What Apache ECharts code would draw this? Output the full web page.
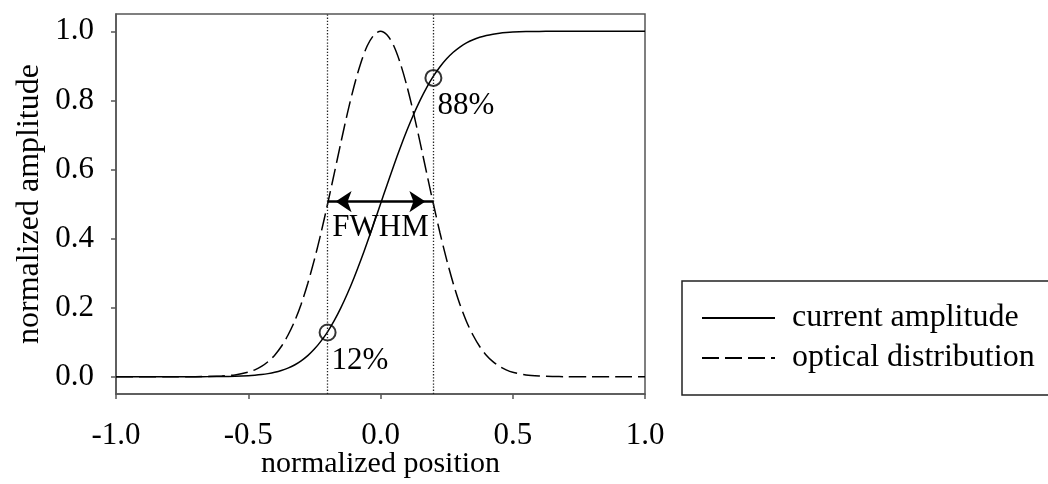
<!DOCTYPE html>
<html>
<head>
<meta charset="utf-8">
<script src="https://cdn.jsdelivr.net/npm/echarts@6/dist/echarts.min.js"></script>
<style>
html,body{margin:0;padding:0;background:#fff;}
#chart{width:1048px;height:484px;}
</style>
</head>
<body>
<div id="chart"></div>
<script>
var positions = [-1.0,-0.9,-0.8,-0.7,-0.65,-0.6,-0.55,-0.5,-0.475,-0.45,-0.425,-0.4,-0.375,-0.35,-0.325,-0.3,-0.275,-0.25,-0.225,-0.2,-0.175,-0.15,-0.125,-0.1,-0.075,-0.05,-0.025,0,0.025,0.05,0.075,0.1,0.125,0.15,0.175,0.2,0.225,0.25,0.275,0.3,0.325,0.35,0.375,0.4,0.425,0.45,0.475,0.5,0.55,0.6,0.65,0.7,0.8,0.9,1.0];
var currentAmplitude = [0,0,0,0.0001,0.0003,0.0006,0.0013,0.0028,0.0042,0.0062,0.0090,0.0128,0.0180,0.0250,0.0340,0.0460,0.0610,0.0800,0.1030,0.1301,0.1622,0.1992,0.2408,0.2867,0.3364,0.3892,0.4440,0.5,0.556,0.6108,0.6636,0.7133,0.7592,0.8008,0.8378,0.8699,0.8974,0.9204,0.9392,0.9544,0.9664,0.9756,0.9826,0.9878,0.9916,0.9944,0.9963,0.9976,0.999,0.9996,0.9999,1,1,1,1];
var opticalDistribution = [0,0,0,0.0002,0.0007,0.002,0.0053,0.0131,0.0200,0.0299,0.0437,0.0625,0.0874,0.120,0.160,0.210,0.270,0.339,0.416,0.5,0.588,0.677,0.763,0.841,0.907,0.958,0.989,1,0.989,0.958,0.907,0.841,0.763,0.677,0.588,0.5,0.416,0.339,0.270,0.210,0.160,0.120,0.0874,0.0625,0.0437,0.0299,0.0200,0.0131,0.0053,0.002,0.0007,0.0002,0,0,0];
var markerX = [-0.2, 0.2];
var markerY = [0.128, 0.865];
var markerLabels = ['12%', '88%'];
var fwhmX = [-0.2, 0.2];
var fwhmY = 0.507;
var fwhmLabelY = 0.43;
var yTicks = [0, 0.2, 0.4, 0.6, 0.8, 1.0];
var seriesNames = ['current amplitude', 'optical distribution'];

var FONT = 'Liberation Serif';
function pairs(xs, ys){ return xs.map(function(x,i){ return [x, ys[i]]; }); }

var chart = echarts.init(document.getElementById('chart'), null, {renderer:'canvas'});
var option = {
  animation: false,
  backgroundColor: '#fff',
  textStyle: {fontFamily: FONT, color: '#000'},
  grid: {left: 116, right: 403, top: 14, bottom: 90, show: true, borderColor: '#555', borderWidth: 1.5, backgroundColor: 'transparent', outerBoundsMode: 'none', containLabel: false},
  legend: {
    orient: 'vertical', left: 682, top: 281,
    data: seriesNames,
    padding: [21, 40, 21, 19],
    itemWidth: 73, itemHeight: 32, itemGap: 8,
    borderColor: '#222', borderWidth: 1.5,
    itemStyle: {opacity: 0},
    textStyle: {fontFamily: FONT, fontSize: 32, color: '#000', padding: [0,0,0,12]},
    selectedMode: false
  },
  xAxis: {
    type: 'value', min: -1, max: 1, interval: 0.5,
    name: 'normalized position', nameLocation: 'middle', nameGap: 55, nameMoveOverlap: false,
    nameTextStyle: {fontFamily: FONT, fontSize: 30, color: '#000'},
    axisLine: {show: true, onZero: false, lineStyle: {color: '#555', width: 1.5}},
    axisTick: {show: true, inside: false, length: 5, lineStyle: {color: '#555', width: 1.5}},
    axisLabel: {fontFamily: FONT, fontSize: 31, color: '#000', margin: 26, formatter: function(v){ return v.toFixed(1); }},
    splitLine: {show: false}
  },
  yAxis: {
    type: 'value', min: -0.05, max: 1.05,
    name: 'normalized amplitude', nameLocation: 'middle', nameGap: 70, nameMoveOverlap: false,
    nameTextStyle: {fontFamily: FONT, fontSize: 32, color: '#000'},
    axisLine: {show: true, onZero: false, lineStyle: {color: '#555', width: 1.5}},
    axisTick: {show: true, inside: false, length: 5, customValues: yTicks, lineStyle: {color: '#555', width: 1.5}},
    axisLabel: {fontFamily: FONT, fontSize: 31, color: '#000', margin: 22, customValues: yTicks, formatter: function(v){ return v.toFixed(1); }},
    splitLine: {show: false}
  },
  series: [
    {
      name: seriesNames[0], type: 'line', data: pairs(positions, currentAmplitude),
      showSymbol: false, symbol: 'none', smooth: 0.3,
      lineStyle: {color: '#000', width: 1.5, type: 'solid'},
      itemStyle: {color: '#000'}, z: 3
    },
    {
      name: seriesNames[1], type: 'line', data: pairs(positions, opticalDistribution),
      showSymbol: false, symbol: 'none', smooth: 0.3,
      lineStyle: {color: '#000', width: 1.5, type: [17, 6]},
      itemStyle: {color: '#000'}, z: 3
    },
    {
      name: 'markers', type: 'scatter',
      data: markerX.map(function(x,i){ return {value: [x, markerY[i]], name: markerLabels[i]}; }),
      symbol: 'emptyCircle', symbolSize: 16,
      itemStyle: {color: '#000', borderColor: '#000', borderWidth: 1.8},
      label: {show: true, formatter: '{b}', fontFamily: FONT, fontSize: 31, color: '#000', opacity: 1, textBorderWidth: 0, position: [13, 37], align: 'left', verticalAlign: 'middle'},
      emphasis: {disabled: true},
      z: 2,
      markLine: {
        silent: true, symbol: 'none', animation: false,
        label: {show: false},
        lineStyle: {color: '#222', width: 1.3, type: [1.3, 1.8]},
        data: [{xAxis: fwhmX[0]}, {xAxis: fwhmX[1]}]
      }
    },
    {
      name: 'fwhm', type: 'scatter',
      data: [{value: [0, fwhmLabelY], name: 'FWHM'}],
      symbol: 'circle', symbolSize: 1,
      itemStyle: {color: '#000', opacity: 0},
      label: {show: true, formatter: '{b}', fontFamily: FONT, fontSize: 31, color: '#000', opacity: 1, textBorderWidth: 0, position: 'inside', align: 'center', verticalAlign: 'middle'},
      emphasis: {disabled: true},
      z: 4,
      markLine: {
        silent: true, animation: false,
        symbol: ['arrow', 'arrow'], symbolSize: 16, symbolOffset: [[0, 8], [0, 8]],
        label: {show: false},
        lineStyle: {color: '#000', width: 2.6, type: 'solid', opacity: 1},
        itemStyle: {color: '#000', opacity: 1},
        data: [[{coord: [fwhmX[0], fwhmY]}, {coord: [fwhmX[1], fwhmY]}]]
      }
    }
  ]
};
chart.setOption(option);
</script>
</body>
</html>
